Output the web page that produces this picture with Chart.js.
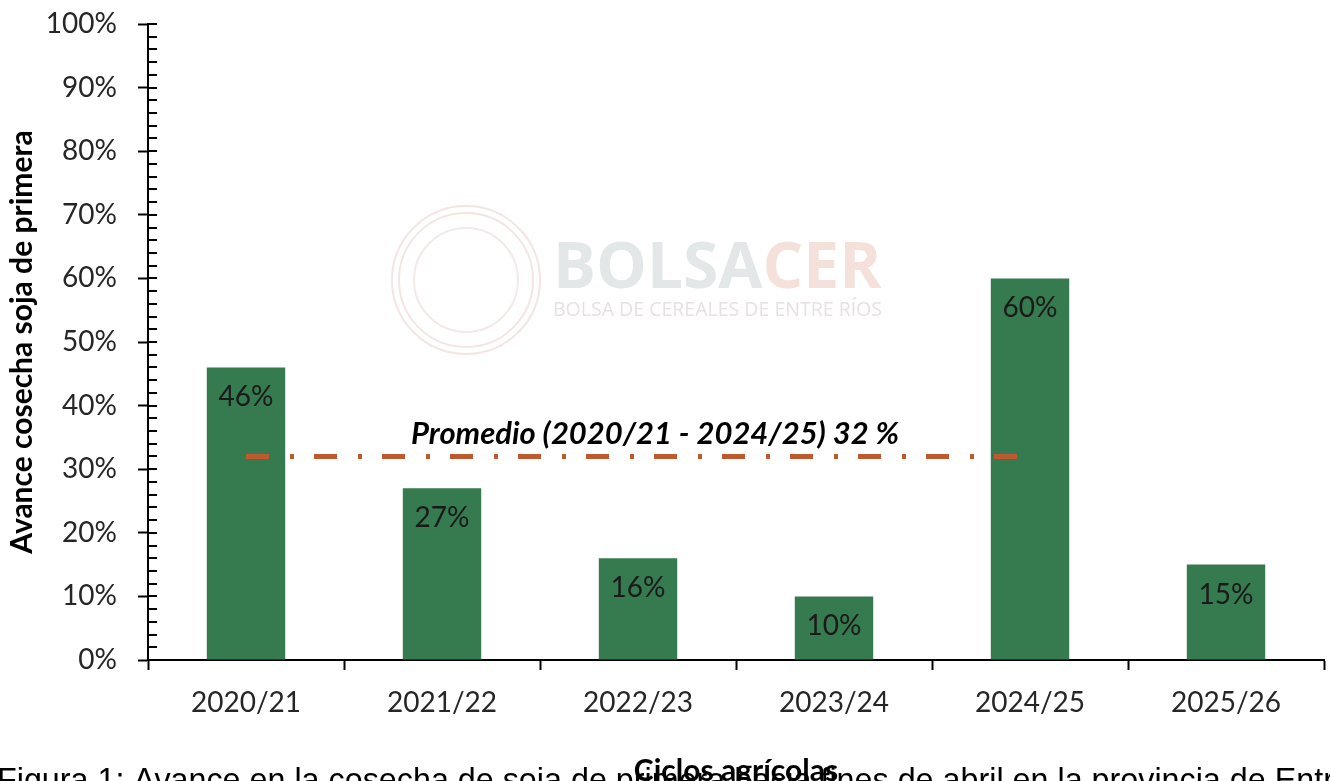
<!DOCTYPE html>
<html>
<head>
<meta charset="utf-8">
<script src="https://cdn.jsdelivr.net/npm/chart.js@4.4.1/dist/chart.umd.min.js"></script>
<style>
  html, body { margin: 0; padding: 0; background: #fff; }
  canvas { display: block; }
</style>
</head>
<body>
<canvas id="chart" width="1330" height="781"></canvas>
<script>
const categories = ['2020/21', '2021/22', '2022/23', '2023/24', '2024/25', '2025/26'];
const values = [46, 27, 16, 10, 60, 15];
const average = [32, 32, 32, 32, 32, null];
const averageLabel = 'Promedio (2020/21 - 2024/25) 32 %';
const yTitle = 'Avance cosecha soja de primera';
const xTitle = 'Ciclos agrícolas';
const caption = 'Figura 1: Avance en la cosecha de soja de primera hacia fines de abril en la provincia de Entre Ríos';

const FONT = "Lato, 'Open Sans', sans-serif";

const whiteBackground = {
    id: 'white_background',
    beforeDraw: (chart) => {
        const { ctx } = chart;
        ctx.save();
        ctx.fillStyle = 'white';
        ctx.fillRect(0, 0, chart.width, chart.height);
        ctx.restore();
    }
};

// faint BOLSACER watermark behind the bars
const watermark = {
    id: 'watermark',
    beforeDatasetsDraw: (chart) => {
        const { ctx } = chart;
        ctx.save();
        ctx.strokeStyle = 'rgba(215, 150, 140, 0.25)';
        ctx.lineWidth = 2;
        ctx.beginPath();
        ctx.arc(466, 280, 74, 0, Math.PI * 2);
        ctx.stroke();
        ctx.beginPath();
        ctx.arc(466, 280, 67, 0, Math.PI * 2);
        ctx.stroke();
        ctx.strokeStyle = 'rgba(200, 170, 165, 0.25)';
        ctx.beginPath();
        ctx.arc(466, 280, 52, 0, Math.PI * 2);
        ctx.stroke();

        ctx.font = "bold 64px 'Open Sans', sans-serif";
        ctx.textBaseline = 'alphabetic';
        ctx.textAlign = 'left';
        ctx.fillStyle = 'rgba(200, 208, 208, 0.5)';
        ctx.fillText('BOLSA', 553, 288);
        const w = ctx.measureText('BOLSA').width;
        ctx.fillStyle = 'rgba(235, 195, 185, 0.5)';
        ctx.fillText('CER', 553 + w, 288);

        ctx.font = "20px 'Open Sans', sans-serif";
        ctx.fillStyle = 'rgba(215, 205, 205, 0.6)';
        ctx.fillText('BOLSA DE CEREALES DE ENTRE RÍOS', 553, 316, 329);
        ctx.restore();
    }
};

// inner minor ticks on the y axis, every 2 %
const minorTicks = {
    id: 'minor_ticks',
    afterDraw: (chart) => {
        const { ctx } = chart;
        const y = chart.scales.y;
        ctx.save();
        ctx.strokeStyle = '#000';
        ctx.lineWidth = 2;
        for (let v = 0; v <= 100; v += 2) {
            const py = Math.round(y.getPixelForValue(v));
            ctx.beginPath();
            ctx.moveTo(y.right, py);
            ctx.lineTo(y.right + 9, py);
            ctx.stroke();
        }
        ctx.restore();
    }
};

const labels = {
    id: 'bar_labels',
    afterDatasetsDraw: (chart) => {
        const { ctx } = chart;
        const bars = chart.getDatasetMeta(0).data;
        ctx.save();
        ctx.font = `28px ${FONT}`;
        ctx.fillStyle = '#1a1a1a';
        ctx.textAlign = 'center';
        ctx.textBaseline = 'middle';
        bars.forEach((bar, i) => {
            ctx.fillText(values[i] + '%', bar.x, bar.y + 30);
        });

        const line = chart.getDatasetMeta(1).data;
        const yPix = chart.scales.y.getPixelForValue(average[0]);
        ctx.font = `italic bold 31px ${FONT}`;
        ctx.fillStyle = '#000';
        ctx.fillText(averageLabel, (line[0].x + line[4].x) / 2 + 17, yPix - 22);
        ctx.restore();
    },
    afterDraw: (chart) => {
        const { ctx } = chart;
        ctx.save();
        ctx.font = "32.3px 'Liberation Sans', Arial, sans-serif";
        ctx.fillStyle = '#000';
        ctx.textAlign = 'left';
        ctx.textBaseline = 'alphabetic';
        ctx.fillText(caption, -3, 791);
        ctx.restore();
    }
};

new Chart(document.getElementById('chart'), {
    type: 'bar',
    data: {
        labels: categories,
        datasets: [{
            data: values,
            backgroundColor: '#367A50',
            barPercentage: 0.4,
            categoryPercentage: 1,
            order: 2
        }, {
            type: 'line',
            data: average,
            borderColor: '#BF5A2E',
            borderWidth: 5,
            borderDash: [23, 21, 4, 20],
            pointRadius: 0,
            fill: false,
            order: 1
        }]
    },
    options: {
        responsive: false,
        animation: false,
        layout: {
            padding: { left: 0, right: 6, top: 24, bottom: 0 }
        },
        scales: {
            x: {
                grid: {
                    offset: true,
                    drawOnChartArea: false,
                    tickLength: 10,
                    tickColor: '#000',
                    tickWidth: 2
                },
                border: { color: '#000', width: 2 },
                ticks: {
                    font: { family: FONT, size: 28 },
                    color: '#262626',
                    padding: 16
                },
                title: {
                    display: true,
                    text: xTitle,
                    color: '#000',
                    font: { family: FONT, size: 30, weight: 'bold', lineHeight: 1 },
                    padding: { top: 0, bottom: -5 }
                },
                afterFit: (scale) => {
                    scale.height = 121;
                    scale.paddingLeft = 0;
                    scale.paddingRight = 0;
                }
            },
            y: {
                min: 0,
                max: 100,
                ticks: {
                    stepSize: 10,
                    callback: (v) => v + '%',
                    font: { family: FONT, size: 28 },
                    color: '#262626',
                    padding: 21
                },
                grid: {
                    drawOnChartArea: false,
                    tickLength: 10,
                    tickColor: '#000',
                    tickWidth: 2
                },
                border: { color: '#000', width: 2 },
                title: {
                    display: true,
                    text: yTitle,
                    color: '#000',
                    font: { family: FONT, size: 30, weight: 'bold', lineHeight: 1.2 },
                    padding: { top: 4, bottom: 0 }
                },
                afterFit: (scale) => {
                    scale.width = 148;
                    scale.paddingTop = 0;
                    scale.paddingBottom = 0;
                }
            }
        },
        plugins: {
            legend: { display: false },
            tooltip: { enabled: false }
        }
    },
    plugins: [whiteBackground, watermark, minorTicks, labels]
});
</script>
</body>
</html>
